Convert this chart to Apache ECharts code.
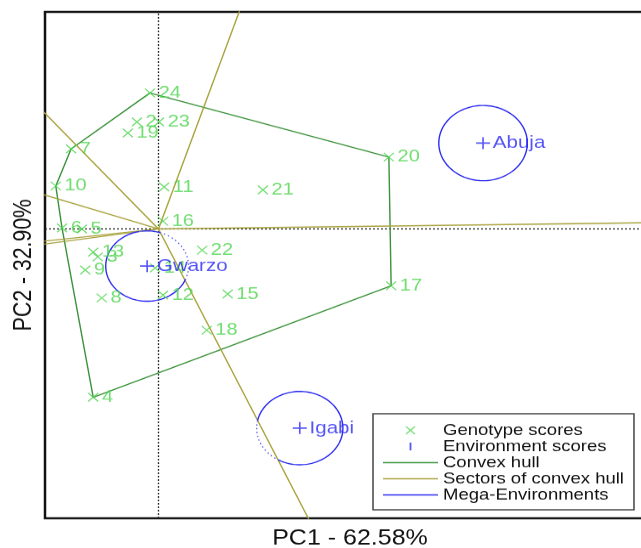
<!DOCTYPE html>
<html>
<head>
<meta charset="utf-8">
<script src="https://cdn.jsdelivr.net/npm/echarts@6/dist/echarts.min.js"></script>
<style>
  html, body { margin: 0; padding: 0; background: #fff; overflow: hidden; width: 641px; height: 548px; }
  /* the biplot is laid out with equal units on both axes, then compressed vertically to fit the frame */
  #chart { width: 700px; height: 645px; transform: scaleY(0.8496); transform-origin: 0 0; }
</style>
</head>
<body>
<div id="chart"></div>
<script>
// ---- data -------------------------------------------------------------
const genotypes = ['2', '3', '4', '5', '6', '7', '8', '9', '10', '11', '12', '13',
                   '14', '15', '16', '17', '18', '19', '20', '21', '22', '23', '24'];
const genoPC1 = [-0.38, -1.07, -1.15, -1.35, -1.70, -1.54, -1.00, -1.29, -1.81, 0.10, 0.08, -1.15,
                 -0.06, 1.22, 0.08, 4.10, 0.85, -0.54, 4.06, 1.84, 0.77, 0.01, -0.15];
const genoPC2 = [2.22, -0.58, -3.49, 0.00, 0.02, 1.66, -1.43, -0.85, 0.89, 0.87, -1.37, -0.48,
                 -0.81, -1.35, 0.16, -1.18, -2.10, 1.99, 1.49, 0.81, -0.44, 2.22, 2.82];

const environments = ['Abuja', 'Gwarzo', 'Igabi'];
const envPC1 = [5.72, -0.20, 2.49];
const envPC2 = [1.78, -0.77, -4.13];
const megaEnvRadius = [0.78, 0.73, 0.76];

// vertices of the convex hull, in drawing order
const hullGenotypes = ['24', '20', '17', '4', '6', '10', '7'];

const pc1Title = 'PC1 - 62.58%';
const pc2Title = 'PC2 - 32.90%';
const legendNames = ['Genotype scores', 'Environment scores', 'Convex hull',
                     'Sectors of convex hull', 'Mega-Environments'];

// ---- styling ----------------------------------------------------------
const FONT = "'Liberation Sans', Arial, Helvetica, sans-serif";
const GREEN = '#4fd64f';
const HULL = '#3a923a';
const SECTOR = '#a9a23c';
const BLUE = '#2b2bf2';
const X_MIN = -2, X_MAX = 8.75, Y_MIN = -6, Y_MAX = 4.5;
const CROSS = 'path://M0 0L10 10M10 0L0 10';
const PLUS = 'path://M0 5L10 5M5 0L5 10';
const BAR = 'path://M0 0h55v1.6h-55z';

// ---- geometry ---------------------------------------------------------
const genoPoint = name => {
  const i = genotypes.indexOf(name);
  return [genoPC1[i], genoPC2[i]];
};
const hullPts = hullGenotypes.map(genoPoint);

// sector boundaries: rays from the origin perpendicular to each hull edge
const sectorRays = hullPts.map((a, i) => {
  const b = hullPts[(i + 1) % hullPts.length];
  let n = [b[1] - a[1], -(b[0] - a[0])];
  if (n[0] * a[0] + n[1] * a[1] < 0) n = [-n[0], -n[1]];
  const len = Math.hypot(n[0], n[1]);
  return [[0, 0], [n[0] / len * 40, n[1] / len * 40]];
});

// which hull genotype wins at a point (largest projection)
function winner(p) {
  let best = -Infinity, idx = -1;
  hullPts.forEach((v, i) => {
    const d = v[0] * p[0] + v[1] * p[1];
    if (d > best) { best = d; idx = i; }
  });
  return idx;
}

// mega-environment circles, solid inside the environment's own sector, dotted outside
const solidArcs = [], dottedArcs = [];
environments.forEach((env, k) => {
  const c = [envPC1[k], envPC2[k]], r = megaEnvRadius[k];
  const home = winner(c);
  const N = 360;
  const pts = [], inside = [];
  for (let j = 0; j < N; j++) {
    const t = 2 * Math.PI * j / N;
    const p = [c[0] + r * Math.cos(t), c[1] + r * Math.sin(t)];
    pts.push(p);
    inside.push(winner(p) === home);
  }
  let start = inside.findIndex((f, j) => f !== inside[(j - 1 + N) % N]);
  if (start < 0) { (inside[0] ? solidArcs : dottedArcs).push(pts.concat([pts[0]])); return; }
  let run = [pts[start]], flag = inside[start];
  for (let s = 1; s <= N; s++) {
    const j = (start + s) % N;
    run.push(pts[j]);
    if (s === N || inside[j] !== flag) {
      (flag ? solidArcs : dottedArcs).push(run);
      run = [pts[j]];
      flag = inside[j];
    }
  }
});

// ---- series -----------------------------------------------------------
const series = [];

// reference lines through the origin
series.push({
  type: 'line', name: 'origin-v', silent: true, symbol: 'none', z: 1,
  data: [[0, Y_MIN], [0, Y_MAX]],
  lineStyle: { color: '#222', width: 1.3, type: [2, 2] }
}, {
  type: 'line', name: 'origin-h', silent: true, symbol: 'none', z: 1,
  data: [[X_MIN, 0], [X_MAX, 0]],
  lineStyle: { color: '#222', width: 1.3, type: [2, 2] }
});

series.push({
  type: 'line', name: 'Convex hull', silent: true, symbol: 'none', z: 2,
  data: hullPts.concat([hullPts[0]]),
  lineStyle: { color: HULL, width: 1.4 }
});

sectorRays.forEach(ray => series.push({
  type: 'line', name: 'Sectors of convex hull', silent: true, symbol: 'none', z: 2,
  data: ray, clip: true,
  lineStyle: { color: SECTOR, width: 1.4 }
}));

solidArcs.forEach(arc => series.push({
  type: 'line', name: 'Mega-Environments', silent: true, symbol: 'none', z: 3,
  data: arc, lineStyle: { color: BLUE, width: 1.4 }
}));
dottedArcs.forEach(arc => series.push({
  type: 'line', name: 'Mega-Environments', silent: true, symbol: 'none', z: 3,
  data: arc, lineStyle: { color: '#5a5af5', width: 1.3, type: [1.5, 3] }
}));

series.push({
  type: 'scatter', name: 'Genotype scores', silent: true, z: 4,
  symbol: CROSS, symbolSize: 10,
  itemStyle: { color: 'rgba(0,0,0,0)', borderColor: GREEN, borderWidth: 1.3 },
  label: {
    show: true, position: 'right', distance: 3, formatter: '{b}',
    color: GREEN, fontSize: 20, fontFamily: FONT
  },
  data: genotypes.map((g, i) => ({ name: g, value: [genoPC1[i], genoPC2[i]] }))
});

series.push({
  type: 'scatter', name: 'Environment scores', silent: true, z: 5,
  symbol: PLUS, symbolSize: 14,
  itemStyle: { color: 'rgba(0,0,0,0)', borderColor: BLUE, borderWidth: 1.6 },
  label: {
    show: true, position: 'right', distance: 2, formatter: '{b}',
    color: BLUE, fontSize: 20.5, fontFamily: FONT
  },
  data: environments.map((e, i) => ({ name: e, value: [envPC1[i], envPC2[i]] }))
});

// ---- chart ------------------------------------------------------------
const chart = echarts.init(document.getElementById('chart'), null, { renderer: 'canvas' });
chart.setOption({
  animation: false,
  backgroundColor: '#fff',
  grid: {
    left: 45, top: 14, width: 610, height: 596,
    outerBoundsMode: 'none',
    show: true, borderColor: '#111', borderWidth: 2.5, backgroundColor: 'transparent'
  },
  xAxis: {
    type: 'value', min: X_MIN, max: X_MAX,
    axisLine: { show: false }, axisTick: { show: false },
    axisLabel: { show: false }, splitLine: { show: false },
    name: pc1Title, nameLocation: 'middle', nameGap: 12,
    nameTextStyle: { fontSize: 25, color: '#111', fontFamily: FONT }
  },
  yAxis: {
    type: 'value', min: Y_MIN, max: Y_MAX,
    axisLine: { show: false }, axisTick: { show: false },
    axisLabel: { show: false }, splitLine: { show: false },
    name: pc2Title, nameLocation: 'middle', nameGap: 8,
    nameTextStyle: { fontSize: 25, color: '#111', fontFamily: FONT }
  },
  legend: {
    orient: 'vertical', left: 373, top: 487,
    padding: [10, 10, 8, 10],
    itemWidth: 55, itemHeight: 9, itemGap: 0,
    borderColor: '#444', borderWidth: 1.5, backgroundColor: '#fff',
    selectedMode: false,
    textStyle: { fontSize: 18.5, lineHeight: 17.6, color: '#111', fontFamily: FONT },
    data: [
      { name: legendNames[0], icon: CROSS,
        itemStyle: { color: 'rgba(0,0,0,0)', borderColor: GREEN, borderWidth: 1.2 } },
      { name: legendNames[1], icon: 'path://M0 0h1v5h-1z',
        itemStyle: { color: BLUE, borderWidth: 0 } },
      { name: legendNames[2], icon: BAR, itemStyle: { color: HULL, borderWidth: 0 } },
      { name: legendNames[3], icon: BAR, itemStyle: { color: SECTOR, borderWidth: 0 } },
      { name: legendNames[4], icon: BAR, itemStyle: { color: BLUE, borderWidth: 0 } }
    ]
  },
  series: series
});
</script>
</body>
</html>
